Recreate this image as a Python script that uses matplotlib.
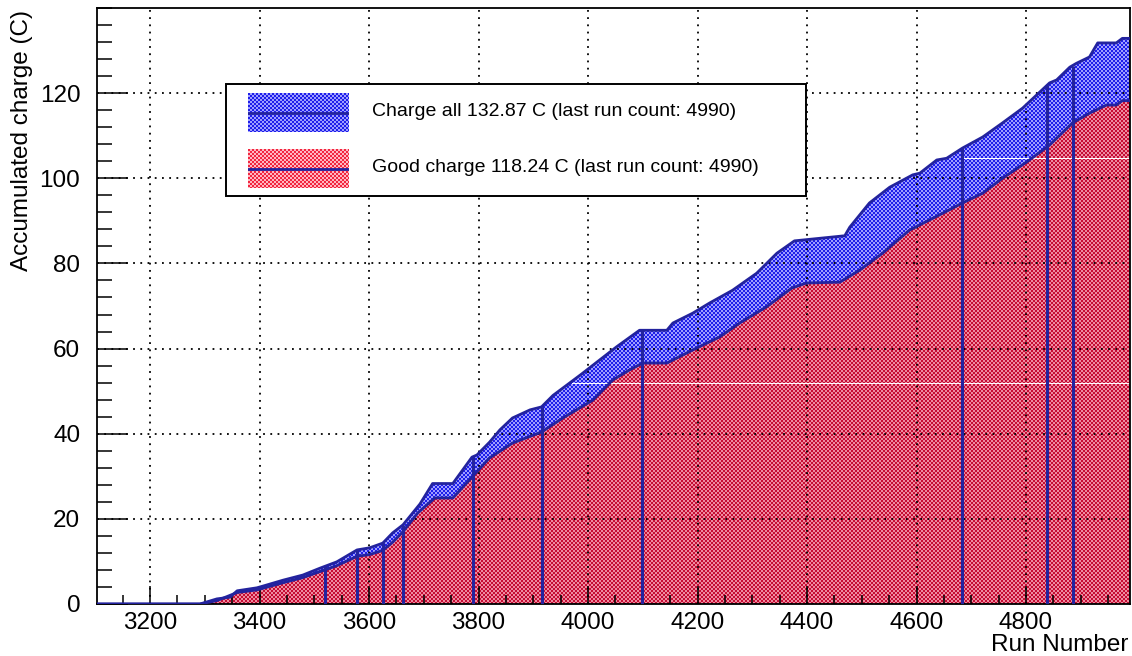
import numpy as np
import matplotlib
matplotlib.use("Agg")
import matplotlib.pyplot as plt
from matplotlib.patches import Rectangle
from matplotlib.ticker import MultipleLocator

# ---- accumulated charge per run (C) ----
runs_all = [3103, 3291, 3322, 3346, 3359, 3395, 3406, 3443, 3479, 3510, 3541, 3578,
            3601, 3625, 3643, 3662, 3693, 3716, 3753, 3788, 3797, 3820, 3839, 3862,
            3894, 3915, 3936, 3961, 3988, 4021, 4052, 4094, 4144, 4155, 4191, 4222,
            4264, 4308, 4345, 4377, 4469, 4478, 4514, 4551, 4593, 4606, 4637, 4655,
            4684, 4721, 4757, 4794, 4843, 4856, 4880, 4892, 4916, 4931, 4965, 4976, 4990]
charge_all = [0, 0, 1.2, 1.6, 3.1, 3.8, 4.2, 5.6, 6.8, 8.4, 9.9, 12.7,
              13.2, 14.3, 16.7, 18.6, 23.5, 28.3, 28.3, 34.5, 35.0, 38.0, 40.9, 43.7,
              45.6, 46.3, 49.0, 51.4, 54.0, 57.3, 60.4, 64.3, 64.3, 66.0, 68.3, 70.7,
              73.7, 77.7, 82.4, 85.3, 86.5, 88.5, 94.2, 97.9, 100.8, 101.2, 104.3, 104.7,
              107.1, 109.7, 113.0, 116.5, 122.4, 123.1, 126.1, 127.0, 128.5, 131.8, 131.8, 132.87, 132.87]

runs_good = [3103, 3291, 3322, 3359, 3395, 3443, 3479, 3510, 3541, 3578, 3601, 3625,
             3643, 3662, 3689, 3720, 3753, 3788, 3820, 3862, 3915, 3954, 4009, 4045,
             4076, 4100, 4144, 4198, 4240, 4277, 4326, 4372, 4399, 4460, 4496, 4538,
             4587, 4648, 4684, 4721, 4757, 4801, 4843, 4885, 4916, 4947, 4965, 4976, 4990]
charge_good = [0, 0, 0.8, 2.7, 3.3, 5.0, 6.2, 7.6, 9.0, 11.2, 11.6, 12.6,
               14.5, 17.0, 21.4, 24.9, 24.9, 29.8, 34.3, 37.8, 40.4, 43.7, 47.9, 52.6,
               55.0, 56.6, 56.6, 60.1, 62.7, 66.0, 69.8, 74.2, 75.4, 75.6, 78.4, 82.4,
               87.8, 91.8, 94.2, 96.5, 100.0, 103.8, 107.8, 113.0, 115.3, 117.2, 117.2, 118.24, 118.24]

# runs with an empty bin in the "all" histogram (drawn as drop lines)
gap_runs = [3519, 3578, 3625, 3662, 3790, 3915, 4098, 4684, 4839, 4885]

x_range = (3103, 4990)
y_range = (0, 140)

# ---- styling ----
NAVY = "#23239e"
BLUE_INK, BLUE_PAPER = (0.12, 0.12, 0.92), (0.62, 0.62, 1.0)
RED_INK, RED_PAPER = (0.78, 0.05, 0.20), (0.93, 0.55, 0.63)

W, H = 1132, 656
plt.rcParams["font.family"] = ["Liberation Sans", "DejaVu Sans"]
fig = plt.figure(figsize=(W / 100, H / 100), dpi=100)


def fx(px):
    return px / W


def fy(py):
    return 1 - py / H


def dot_pattern(h, w, ink, paper):
    r = np.arange(h)[:, None]
    c = np.arange(w)[None, :]
    mask = ((r // 2 + c // 2) % 2) == 0
    img = np.empty((h, w, 3))
    img[:] = paper
    img[mask] = ink
    return img


L, T, R, B = 97, 8, 1130, 604
ax = fig.add_axes([fx(L), fy(B), (R - L) / W, (B - T) / H])

hp, wp = B - T, R - L
tex_all = dot_pattern(hp, wp, BLUE_INK, BLUE_PAPER)
tex_good = dot_pattern(hp, wp, RED_INK, RED_PAPER)
# pattern tile seams
for tex in (tex_all, tex_good):
    tex[375, 475:] = 1.0
    tex[150, 866:] = 1.0

ext = (x_range[0], x_range[1], y_range[0], y_range[1])

poly_all = ax.fill_between(runs_all, charge_all, 0, facecolor="none", edgecolor="none")
im_all = ax.imshow(tex_all, extent=ext, origin="upper", aspect="auto",
                   interpolation="nearest", zorder=1)
im_all.set_clip_path(poly_all.get_paths()[0], ax.transData)

poly_good = ax.fill_between(runs_good, charge_good, 0, facecolor="none", edgecolor="none")
im_good = ax.imshow(tex_good, extent=ext, origin="upper", aspect="auto",
                    interpolation="nearest", zorder=1.1)
im_good.set_clip_path(poly_good.get_paths()[0], ax.transData)

ax.plot(runs_all, charge_all, color=NAVY, lw=2.0, zorder=3)
ax.plot(runs_good, charge_good, color=NAVY, lw=2.0, zorder=3)
ax.vlines(gap_runs, 0, np.interp(gap_runs, runs_all, charge_all), color=NAVY, lw=2.2, zorder=3)

ax.set_xlim(*x_range)
ax.set_ylim(*y_range)

ax.xaxis.set_major_locator(MultipleLocator(200))
ax.xaxis.set_minor_locator(MultipleLocator(50))
ax.set_yticks(np.arange(0, 121, 20))
ax.yaxis.set_minor_locator(MultipleLocator(4))

ax.grid(True, which="major", color="black", linestyle=(0, (1, 3)), linewidth=1.3)
ax.set_axisbelow(False)

ax.tick_params(axis="both", which="both", direction="in", top=False, right=False,
               labelsize=17.5, width=1.1)
ax.tick_params(axis="x", which="major", length=13, pad=6)
ax.tick_params(axis="x", which="minor", length=6.5)
ax.tick_params(axis="y", which="major", length=22, pad=12)
ax.tick_params(axis="y", which="minor", length=11)
for s in ax.spines.values():
    s.set_linewidth(1.3)

fig.text(fx(22), fy(10), "Accumulated charge (C)", rotation=90, ha="center", va="top",
         fontsize=17.5)
fig.text(fx(1128), fy(645), "Run Number", ha="right", va="center", fontsize=17.5)

# ---- legend ----
box = Rectangle((fx(226), fy(196)), (806 - 226) / W, (196 - 84) / H,
                transform=fig.transFigure, facecolor="white", edgecolor="black",
                linewidth=1.4, zorder=5)
fig.add_artist(box)

entries = [
    (93, BLUE_INK, BLUE_PAPER,
     f"Charge all {charge_all[-1]:.2f} C (last run count: {runs_all[-1]})"),
    (149, (0.95, 0.15, 0.25), (1.0, 0.72, 0.76),
     f"Good charge {charge_good[-1]:.2f} C (last run count: {runs_good[-1]})"),
]
for top, ink, paper, label in entries:
    sw = fig.add_axes([fx(248), fy(top + 39), 101 / W, 39 / H], zorder=6)
    sw.imshow(dot_pattern(39, 101, ink, paper), extent=(0, 1, 0, 1), aspect="auto",
              interpolation="nearest")
    sw.axhline(0.5, color=NAVY, lw=2.0)
    sw.set_xlim(0, 1)
    sw.set_ylim(0, 1)
    sw.axis("off")
    fig.text(fx(372), fy(top + 19), label, ha="left", va="center", fontsize=14, zorder=7)

fig.savefig("out.png", dpi=100)
